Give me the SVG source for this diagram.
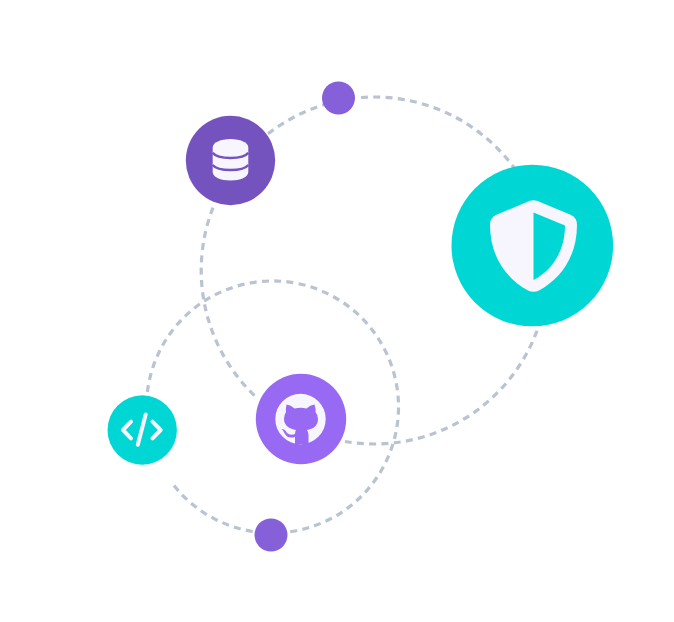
<svg xmlns="http://www.w3.org/2000/svg" width="674" height="622" viewBox="0 0 674 622">
<style>
.orbit{fill:none;stroke:#b9c3d2;stroke-width:3.2;stroke-dasharray:7 5.3}
.glyph{fill:#f7f6ff}
.codeline{fill:none;stroke:#f7f6ff;stroke-width:4;stroke-linecap:round;stroke-linejoin:round}
</style>
<rect width="674" height="622" fill="#ffffff"/>
<g id="connectors">
<path class="orbit" d="M361 97.5A173.5 173.5 0 0 1 514 167.7"/>
<path class="orbit" d="M537 330.7A173.5 173.5 0 0 1 345 441.5"/>
<path class="orbit" d="M213 207.6A173.5 173.5 0 0 0 256 397"/>
<path class="orbit" d="M268 133.8A173.5 173.5 0 0 1 326 104.1"/>
<path class="orbit" d="M147.4 392A126 126 0 1 1 288 532"/>
<path class="orbit" d="M174 485.6A126 126 0 0 0 255 531.8"/>
</g>
<g id="node-database">
<circle cx="230.5" cy="160.5" r="44.7" fill="#7453bf"/>
<path class="glyph" d="M212.7 147.5C212.7 142.5 220.7 139 230.5 139S248.3 142.5 248.3 147.5V172C248.3 177 240.3 180.5 230.5 180.5S212.7 177 212.7 172Z"/>
<path d="M212.7 152.8C215 156 222 158 230.5 158S246 156 248.3 152.8M212.7 165C215 168 222 170 230.5 170S246 168 248.3 165" fill="none" stroke="#7453bf" stroke-width="2.4"/>
</g>
<g id="node-dot-top"><circle cx="338.5" cy="98" r="16.5" fill="#8660d9"/></g>
<g id="node-shield">
<circle cx="532.3" cy="245.5" r="80.8" fill="#00d7d4"/>
<path class="glyph" d="M530 200.8L497 214.5Q490 217.5 490 225C490 255 505 278 528 290.5Q533.5 293 539 290.5C562 278 577 255 577 225Q577 217.5 570 214.5L537 200.8Q533.5 199.5 530 200.8Z"/>
<path d="M533.5 212.5L565 225.5C565 250 553 270 533.5 280Z" fill="#00d7d4"/>
</g>
<g id="node-github">
<circle cx="301" cy="419" r="45.2" fill="#986af3"/>
<circle class="glyph" cx="300.5" cy="419" r="25.2"/>
<path d="M286.5 404.5Q291 405 294.5 408.5Q300.5 407 306.5 408.5Q310 405 314.5 404.5Q316 409 315.5 412Q318 415 318 419C318 426 313 429 307 430Q308.5 432 308.5 435V444H295V437Q288 439 285 434Q283 430 281.5 429Q285 429 287 433Q290 436 295 434Q295 431.5 296 430C290 429 284 426 284 419Q284 415 286 412Q285.5 409 286.5 404.5Z" fill="#986af3"/>
</g>
<g id="node-code">
<circle cx="142.2" cy="430" r="34.7" fill="#00d7d4"/>
<path class="codeline" d="M131 421.7L123 430L131 438.3M152.5 421.7L160.7 430L152.5 438.3M145.7 414.5L137.8 444.8"/>
</g>
<g id="node-dot-bottom"><circle cx="271" cy="535" r="16.5" fill="#8660d9"/></g>
</svg>
